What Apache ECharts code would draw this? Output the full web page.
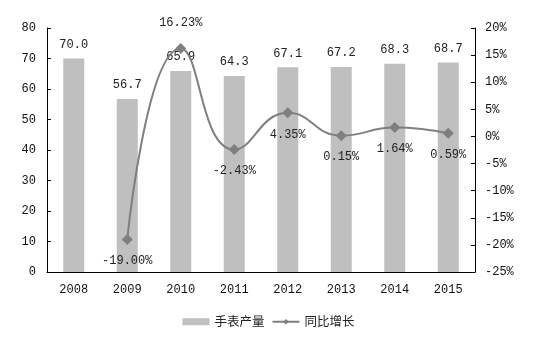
<!DOCTYPE html>
<html><head><meta charset="utf-8">
<script src="https://cdn.jsdelivr.net/npm/echarts@6/dist/echarts.min.js"></script>
<style>html,body{margin:0;padding:0;background:#fff}#c{width:537px;height:345px}</style>
</head><body><div id="c"></div>
<script>
const categories = ['2008','2009','2010','2011','2012','2013','2014','2015'];
const output = [70.0, 56.7, 65.9, 64.3, 67.1, 67.2, 68.3, 68.7];
const growth = [null, -19.00, 16.23, -2.43, 4.35, 0.15, 1.64, 0.59];
const seriesNames = ['手表产量', '同比增长'];

const chart = echarts.init(document.getElementById('c'));
const mono = '"Liberation Mono", "DejaVu Sans Mono", monospace';
const growthData = growth.map((v, i) => i === 2 ? {value: v, label: {position: 'top', distance: 14}} : v);
chart.setOption({
  animation: false,
  backgroundColor: '#fff',
  grid: {left: 47, right: 62, top: 28, bottom: 73},
  legend: {
    bottom: 12, left: 'center', itemGap: 7, itemWidth: 27, itemHeight: 7,
    textStyle: {fontSize: 12.5, color: '#222', fontFamily: '"Noto Sans CJK SC", sans-serif'},
    data: [{name: seriesNames[0], icon: 'rect'}, {name: seriesNames[1]}]
  },
  xAxis: {
    type: 'category', data: categories,
    axisLine: {lineStyle: {color: '#000'}},
    axisTick: {inside: true, length: 4, lineStyle: {color: '#000'}},
    axisLabel: {color: '#111', fontSize: 12, margin: 12, fontFamily: mono}
  },
  yAxis: [{
    type: 'value', min: 0, max: 80, interval: 10,
    axisLine: {show: true, lineStyle: {color: '#000'}},
    axisTick: {show: true, inside: true, length: 4, lineStyle: {color: '#000'}},
    splitLine: {show: false},
    axisLabel: {color: '#111', fontSize: 12, margin: 11, fontFamily: mono}
  }, {
    type: 'value', min: -25, max: 20, interval: 5,
    axisLine: {show: true, lineStyle: {color: '#000'}},
    axisTick: {show: true, inside: true, length: 4, lineStyle: {color: '#000'}},
    splitLine: {show: false},
    axisLabel: {color: '#111', fontSize: 12, margin: 10, fontFamily: mono, formatter: '{value}%'}
  }],
  series: [{
    name: seriesNames[0], type: 'bar', data: output, barWidth: 21,
    itemStyle: {color: '#bfbfbf'},
    label: {show: true, position: 'top', distance: 8, color: '#222', fontSize: 12, fontFamily: mono,
      formatter: p => p.value.toFixed(1)}
  }, {
    name: seriesNames[1], type: 'line', yAxisIndex: 1, data: growthData, smooth: 0.5,
    symbol: 'diamond', symbolSize: 11, connectNulls: false,
    lineStyle: {color: '#7f7f7f', width: 2},
    itemStyle: {color: '#7f7f7f'},
    label: {show: true, color: '#222', fontSize: 12, fontFamily: mono,
      position: 'bottom', distance: 10,
      formatter: p => p.value.toFixed(2) + '%'}
  }]
});
</script></body></html>
